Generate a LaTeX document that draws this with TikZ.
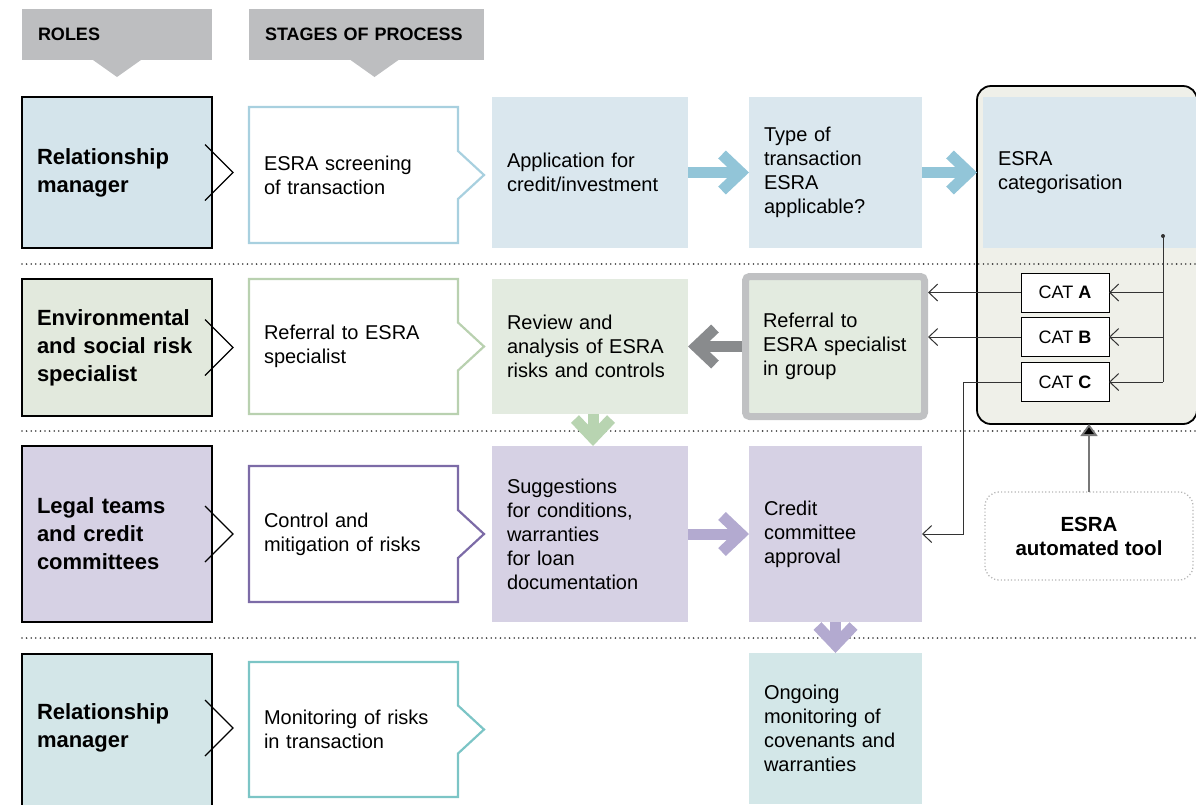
\documentclass[tikz,border=0pt]{standalone}
\usepackage{fontspec}
\setmainfont{Liberation Sans}
\usetikzlibrary{arrows.meta,calc}
\definecolor{hdrgray}{HTML}{BDBEC0}
\definecolor{role1}{HTML}{D4E4EB}
\definecolor{box1}{HTML}{DAE7EE}
\definecolor{stage1}{HTML}{A8D0DF}
\definecolor{arr1}{HTML}{92C5D8}
\definecolor{role2}{HTML}{E2E9DD}
\definecolor{box2}{HTML}{E3EBE0}
\definecolor{stage2}{HTML}{B9D1B0}
\definecolor{arr2}{HTML}{B8D4B1}
\definecolor{role3}{HTML}{D6D1E4}
\definecolor{box3}{HTML}{D6D1E4}
\definecolor{stage3}{HTML}{7C6BA7}
\definecolor{arr3}{HTML}{B3AAD0}
\definecolor{role4}{HTML}{D3E6E8}
\definecolor{box4}{HTML}{D3E7E8}
\definecolor{stage4}{HTML}{7CC5C6}
\definecolor{esrabg}{HTML}{EFF0E9}
\definecolor{grayborder}{HTML}{C0C1C3}
\definecolor{arrgray}{HTML}{898B8D}
\definecolor{sepcol}{HTML}{3A3A3A}
\definecolor{linegray}{HTML}{333333}
\definecolor{toolborder}{HTML}{B5B5B5}
\definecolor{toolarrow}{HTML}{777777}
\newcommand\rolefont{\fontsize{22}{28}\selectfont\bfseries}
\newcommand\boxfont{\fontsize{20}{24}\selectfont\hyphenpenalty=10000}
\newcommand\hdrfont{\fontsize{18}{22}\selectfont\bfseries}
\newcommand\catfont{\fontsize{18}{22}\selectfont}
\newcommand\toolfont{\fontsize{20.5}{24}\selectfont\bfseries}
\newcommand\notchbox[2]{\draw[line width=2.2pt,draw=#2] (#1.north west) -- (#1.north east) -- ([yshift=24pt]#1.east) -- ([xshift=26pt]#1.east) -- ([yshift=-24pt]#1.east) -- (#1.south east) -- (#1.south west) -- cycle;}
\newcommand\rolechev[1]{\draw[line width=1.1pt] ([xshift=-7pt,yshift=28pt]#1.east) -- ([xshift=21pt]#1.east) -- ([xshift=-7pt,yshift=-28pt]#1.east);}
\tikzset{
  every node/.style={outer sep=0pt},
  hdr/.style={fill=hdrgray, minimum height=51pt, inner xsep=16pt, align=left, font=\hdrfont},
  rolebox/.style={draw=black, line width=1.1pt, fill=#1, text width=160pt, inner xsep=15pt, align=left, font=\rolefont},
  stagebox/.style={text width=179pt, inner xsep=15pt, align=left, font=\boxfont},
  midbox/.style={fill=#1, text width=166pt, inner xsep=15pt, align=left, font=\boxfont},
  rightbox/.style={fill=#1, text width=143pt, inner xsep=15pt, align=left, font=\boxfont},
  catbox/.style={draw=black, line width=1pt, fill=white, minimum width=88pt, minimum height=39pt, font=\catfont},
  fatarrow/.style={draw=#1, line width=11pt, -{Straight Barb[length=19pt,width=36pt]}},
  thinarrow/.style={draw=linegray, line width=1pt, -{Straight Barb[length=9pt,width=17pt]}},
  sepline/.style={draw=sepcol, line width=1.8pt, line cap=round, dash pattern=on 0pt off 4.6pt}
}
\begin{document}
\begin{tikzpicture}[x=1pt,y=-1pt]
\useasboundingbox (0,0) rectangle (1196,804);
\clip (0,0) rectangle (1196,804);

% headers
\node[hdr, text width=158pt] (hroles) at (117,34.5) {ROLES};
\node[hdr, text width=203pt] (hstages) at (366.5,34.5) {STAGES OF PROCESS};
\fill[hdrgray] ([xshift=-24pt]hroles.south) -- ([yshift=-17pt]hroles.south) -- ([xshift=24pt]hroles.south) -- cycle;
\fill[hdrgray] ([xshift=-16pt]hstages.south) -- ([xshift=8pt,yshift=-17pt]hstages.south) -- ([xshift=32pt]hstages.south) -- cycle;

% ESRA tool frame
\node[draw=black, line width=1.8pt, fill=esrabg, rounded corners=14pt, minimum width=220pt, minimum height=338pt] (esra) at (1087,255) {};
\node[fill=box1, text width=200pt, inner xsep=15pt, align=left, font=\boxfont, minimum height=151pt] (cat) at (1098,172.5) {ESRA\\categorisation};

% separators
\draw[sepline] (22,264) -- (1196,264);
\draw[sepline] (22,431) -- (1196,431);
\draw[sepline] (22,638) -- (1196,638);

% row 1
\node[rolebox=role1, minimum height=151pt] (r1) at (117,172.5) {Relationship\\manager};
\node[stagebox, minimum height=136pt] (s1) at (353.5,175) {ESRA~screening\\of~transaction};
\node[midbox=box1, minimum height=151pt] (app) at (590,172.5) {Application~for\\credit/investment};
\node[rightbox=box1, minimum height=151pt] (type) at (835.5,172.5) {Type~of\\transaction\\ESRA\\applicable?};

% row 2
\node[rolebox=role2, minimum height=137pt] (r2) at (117,347.5) {Environmental\\and~social~risk\\specialist};
\node[stagebox, minimum height=135pt] (s2) at (353.5,346.5) {Referral~to~ESRA\\specialist};
\node[midbox=box2, minimum height=135pt] (rev) at (590,346.5) {Review~and\\analysis~of~ESRA\\risks~and~controls};
\node[draw=grayborder, line width=7pt, fill=box2, rounded corners=4pt, text width=144pt, inner xsep=17.5pt, minimum height=140pt, align=left, font=\boxfont] (grp) at (835,346.5) {\mbox{Referral to}\\\mbox{ESRA specialist}\\\mbox{in group}};

% row 3
\node[rolebox=role3, minimum height=176pt] (r3) at (117,534) {Legal~teams\\and~credit\\committees};
\node[stagebox, minimum height=136pt] (s3) at (353.5,534) {Control~and\\mitigation~of~risks};
\node[midbox=box3, minimum height=176pt] (sug) at (590,534) {Suggestions\\for~conditions,\\warranties\\for~loan\\documentation};
\node[rightbox=box3, minimum height=176pt] (cred) at (835.5,534) {Credit\\committee\\approval};

% row 4
\fill[role4] (22,654) rectangle (212,840);
\draw[line width=1.1pt] (22,840) -- (22,654) -- (212,654) -- (212,840);
\node[rolebox=role4, draw=none, fill=none, minimum height=148pt] (r4) at (117,728) {Relationship\\manager};
\node[stagebox, minimum height=135pt] (s4) at (353.5,729.5) {Monitoring~of~risks\\in~transaction};
\node[rightbox=box4, minimum height=151pt] (ong) at (835.5,728.5) {Ongoing\\monitoring~of\\covenants~and\\warranties};

% outlines
\rolechev{r1}\rolechev{r2}\rolechev{r3}\rolechev{r4}
\notchbox{s1}{stage1}
\notchbox{s2}{stage2}
\notchbox{s3}{stage3}
\notchbox{s4}{stage4}

% fat arrows
\draw[fatarrow=arr1] (app.east) -- (type.west);
\draw[fatarrow=arr1] (type.east) -- (esra.west |- type.east);
\draw[fatarrow=arrgray] ([xshift=-3.5pt]grp.west) -- (rev.east);
\draw[fatarrow=arr2] ([xshift=3pt]rev.south) -- ([xshift=3pt]sug.north);
\draw[fatarrow=arr3] (sug.east) -- (cred.west);
\draw[fatarrow=arr3] (cred.south) -- (ong.north);

% CAT boxes
\node[catbox] (ca) at (1065,292.5) {CAT \textbf{A}};
\node[catbox] (cb) at (1065,337) {CAT \textbf{B}};
\node[catbox] (cc) at (1065,382) {CAT \textbf{C}};
\coordinate (dot) at (1163,236);
\fill[linegray] (dot) circle (2pt);
\draw[line width=1pt, linegray] (dot) -- (dot |- cc.east);
\draw[thinarrow] (dot |- ca.east) -- (ca.east);
\draw[thinarrow] (dot |- cb.east) -- (cb.east);
\draw[thinarrow] (dot |- cc.east) -- (cc.east);
\draw[thinarrow] (ca.west) -- ($(ca.west -| grp.east)+(3.5,0)$);
\draw[thinarrow] (cb.west) -- ($(cb.west -| grp.east)+(3.5,0)$);
\draw[thinarrow] (cc.west) -| ($(cred.east)+(41,0)$) -- (cred.east);

% automated tool
\node[draw=toolborder, line width=1.3pt, dash pattern=on 1.2pt off 2.2pt, rounded corners=14pt, minimum width=208pt, minimum height=88pt, align=center, font=\toolfont] (tool) at (1089,536) {ESRA\\automated tool};
\draw[draw=toolarrow, line width=1.8pt, -{Triangle[length=12pt,width=17pt,fill=black]}] (tool.north) -- (tool.north |- esra.south);
\end{tikzpicture}
\end{document}
